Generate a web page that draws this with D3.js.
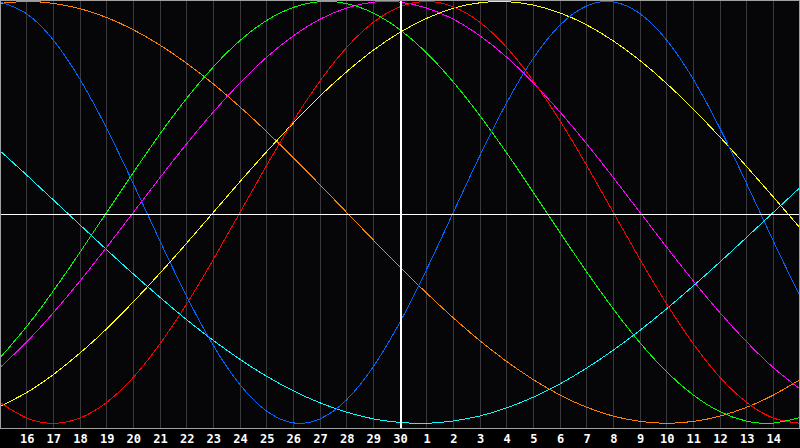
<!DOCTYPE html>
<html>
<head>
<meta charset="utf-8">
<script src="https://cdn.jsdelivr.net/npm/d3@7/dist/d3.min.js"></script>
<style>
  html, body { margin: 0; padding: 0; background: #000; }
  svg { display: block; }
</style>
</head>
<body>
<svg id="chart" width="800" height="448"></svg>
<script>
// Day labels along the bottom (gridline positions 1..29)
const dayLabels = [16,17,18,19,20,21,22,23,24,25,26,27,28,29,30,1,2,3,4,5,6,7,8,9,10,11,12,13,14];
const todayIndex = 15; // "30" — the centre line

// Series: daily values (day 15 of previous month .. day 15)
const physical23 = [0.998,0.942,0.817,0.631,0.398,0.136,-0.136,-0.398,-0.631,-0.817,-0.942,-0.998,-0.979,-0.888,-0.731,-0.520,-0.270,0,0.270,0.520,0.731,0.888,0.979,0.998,0.942,0.817,0.631,0.398,0.136,-0.136,-0.398];
const emotional28 = [-0.901,-0.975,-1,-0.975,-0.901,-0.782,-0.623,-0.434,-0.223,0,0.223,0.434,0.623,0.782,0.901,0.975,1,0.975,0.901,0.782,0.623,0.434,0.223,0,-0.223,-0.434,-0.623,-0.782,-0.901,-0.975,-1];
const intellectual33 = [-0.690,-0.541,-0.372,-0.189,0,0.189,0.372,0.541,0.690,0.815,0.910,0.972,0.999,0.990,0.945,0.866,0.756,0.618,0.458,0.282,0.095,-0.095,-0.282,-0.458,-0.618,-0.756,-0.866,-0.945,-0.990,-0.999,-0.972];
const intuitive38 = [-0.736,-0.614,-0.476,-0.325,-0.165,0,0.165,0.325,0.476,0.614,0.736,0.837,0.916,0.969,0.997,0.997,0.969,0.916,0.837,0.736,0.614,0.476,0.325,0.165,0,-0.165,-0.325,-0.476,-0.614,-0.736,-0.837];
const aesthetic43 = [-0.920,-0.854,-0.769,-0.667,-0.552,-0.424,-0.288,-0.146,0,0.146,0.288,0.424,0.552,0.667,0.769,0.854,0.920,0.968,0.994,0.999,0.983,0.946,0.889,0.813,0.720,0.611,0.489,0.357,0.217,0.073,-0.073];
const awareness48 = [0.991,1,0.991,0.966,0.924,0.866,0.793,0.707,0.609,0.5,0.383,0.259,0.131,0,-0.131,-0.259,-0.383,-0.5,-0.609,-0.707,-0.793,-0.866,-0.924,-0.966,-0.991,-1,-0.991,-0.966,-0.924,-0.866,-0.793];
const spiritual53 = [0.292,0.177,0.059,-0.059,-0.177,-0.292,-0.403,-0.509,-0.607,-0.697,-0.777,-0.846,-0.903,-0.947,-0.979,-0.996,-1.000,-0.989,-0.965,-0.927,-0.876,-0.813,-0.738,-0.653,-0.559,-0.457,-0.348,-0.235,-0.118,0,0.118];

const seriesList = [
  { name: "Spiritual", values: spiritual53, color: "#00ffff" },
  { name: "Awareness", values: awareness48, color: "#ff8000" },
  { name: "Aesthetic", values: aesthetic43, color: "#ffff00" },
  { name: "Intuitive", values: intuitive38, color: "#ff00ff" },
  { name: "Intellectual", values: intellectual33, color: "#00ff00" },
  { name: "Emotional", values: emotional28, color: "#ff0000" },
  { name: "Physical", values: physical23, color: "#0064ff" }
];

const W = 800, plotH = 428;
const svg = d3.select("#chart");

svg.append("rect").attr("x", 0).attr("y", 0).attr("width", 800).attr("height", 448).attr("fill", "#000");
svg.append("rect").attr("x", 0).attr("y", 0).attr("width", W).attr("height", plotH).attr("fill", "#060609");

const x = d3.scaleLinear().domain([0, 30]).range([0, W]);
const y = d3.scaleLinear().domain([-1, 1]).range([423.3, 1.5]);

// vertical grid
const gridIdx = d3.range(1, 30);
svg.append("g").selectAll("line").data(gridIdx.filter(i => i !== todayIndex)).join("line")
  .attr("x1", i => Math.floor(x(i)) + 0.5).attr("x2", i => Math.floor(x(i)) + 0.5)
  .attr("y1", 0).attr("y2", plotH)
  .attr("stroke", "#3a3a3e").attr("stroke-width", 1)
  .attr("shape-rendering", "crispEdges");

// curves
const line = d3.line().x((d, i) => x(i)).y(d => y(d)).curve(d3.curveNatural);
svg.append("g").selectAll("path").data(seriesList).join("path")
  .attr("d", s => line(s.values))
  .attr("fill", "none")
  .attr("stroke", s => s.color)
  .attr("stroke-width", 1)
  .attr("shape-rendering", "crispEdges");

// centre cross
svg.append("line")
  .attr("x1", 0).attr("x2", W).attr("y1", plotH / 2 + 0.5).attr("y2", plotH / 2 + 0.5)
  .attr("stroke", "#ffffff").attr("stroke-width", 1.5).attr("shape-rendering", "crispEdges");
svg.append("line")
  .attr("x1", x(todayIndex) + 0.5).attr("x2", x(todayIndex) + 0.5).attr("y1", 0).attr("y2", plotH)
  .attr("stroke", "#ffffff").attr("stroke-width", 2).attr("shape-rendering", "crispEdges");

// frame
svg.append("rect").attr("x", 0.5).attr("y", 0.5).attr("width", W - 1).attr("height", plotH)
  .attr("fill", "none").attr("stroke", "#a0a0a0").attr("stroke-width", 1)
  .attr("shape-rendering", "crispEdges");

// day labels
svg.append("g").selectAll("text").data(dayLabels).join("text")
  .attr("x", (d, i) => x(i + 1) + 0.5)
  .attr("y", 443)
  .attr("text-anchor", "middle")
  .attr("fill", "#ffffff")
  .attr("font-family", "'DejaVu Sans Mono', monospace")
  .attr("font-weight", "bold")
  .attr("font-size", "12px")
  .text(d => d);
</script>
</body>
</html>
